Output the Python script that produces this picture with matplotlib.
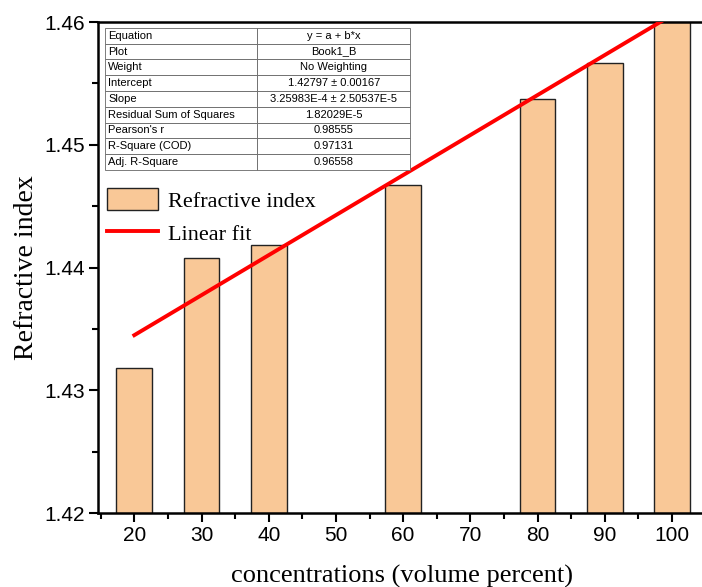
import matplotlib.pyplot as plt
from matplotlib.ticker import MultipleLocator

# data
conc = [20, 30, 40, 60, 80, 90, 100]
ri = [1.4318, 1.4408, 1.4418, 1.4467, 1.4537, 1.4567, 1.4612]

intercept = 1.42797
slope = 3.25983e-4

table_rows = [
    ["Equation", "y = a + b*x"],
    ["Plot", "Book1_B"],
    ["Weight", "No Weighting"],
    ["Intercept", "1.42797 \u00b1 0.00167"],
    ["Slope", "3.25983E-4 \u00b1 2.50537E-5"],
    ["Residual Sum of Squares", "1.82029E-5"],
    ["Pearson's r", "0.98555"],
    ["R-Square (COD)", "0.97131"],
    ["Adj. R-Square", "0.96558"],
]

serif = "Liberation Serif"
sans = "Liberation Sans"

fig = plt.figure(figsize=(7.02, 5.87), dpi=100)
ax = fig.add_axes([0.1396, 0.126, 0.8655, 0.8365])

ax.bar(conc, ri, width=5.3, bottom=0, color="#F9C897", edgecolor="#222222",
       linewidth=1.0, label="Refractive index", zorder=2)
fit_x = [conc[0], conc[-1]]
fit_y = [intercept + slope * x for x in fit_x]
ax.plot(fit_x, fit_y, color="#FF0000", linewidth=2.8, label="Linear fit", zorder=3)

ax.set_xlim(14.6, 105)
ax.set_ylim(1.42, 1.46)
ax.xaxis.set_major_locator(MultipleLocator(10))
ax.xaxis.set_minor_locator(MultipleLocator(5))
ax.yaxis.set_major_locator(MultipleLocator(0.01))
ax.yaxis.set_minor_locator(MultipleLocator(0.005))
ax.tick_params(which="both", direction="out", width=1.5)
ax.tick_params(which="major", length=6.5, labelsize=15, pad=3)
ax.tick_params(which="minor", length=4)
ax.set_xticks(range(20, 101, 10))
for lab in ax.get_xticklabels() + ax.get_yticklabels():
    lab.set_fontfamily(sans)
for s in ax.spines.values():
    s.set_linewidth(1.8)

ax.set_xlabel("concentrations (volume percent)", fontsize=19, family=serif, labelpad=14)
ax.set_ylabel("Refractive index", fontsize=20, family=serif, labelpad=4)

tbl = ax.table(cellText=table_rows, cellLoc="center",
               bbox=[0.0115, 0.699, 0.502, 0.289], zorder=5)
tbl.auto_set_font_size(False)
for (r, c), cell in tbl.get_celld().items():
    cell.set_edgecolor("#666666")
    cell.set_linewidth(0.6)
    cell.get_text().set_fontsize(8)
    cell.get_text().set_fontfamily(sans)
    if c == 0:
        cell.get_text().set_ha("left")
        cell._loc = "left"
        cell.PAD = 0.02

# bars first, then the line, as in the original legend
handles, labels = ax.get_legend_handles_labels()
order = [labels.index("Refractive index"), labels.index("Linear fit")]
leg = ax.legend([handles[i] for i in order], [labels[i] for i in order],
                loc="upper left", bbox_to_anchor=(-0.018, 0.702), frameon=False,
                prop={"family": serif, "size": 16}, handlelength=2.3,
                handleheight=1.15, labelspacing=0.42, handletextpad=0.45)

fig.savefig("out.png", dpi=100)
